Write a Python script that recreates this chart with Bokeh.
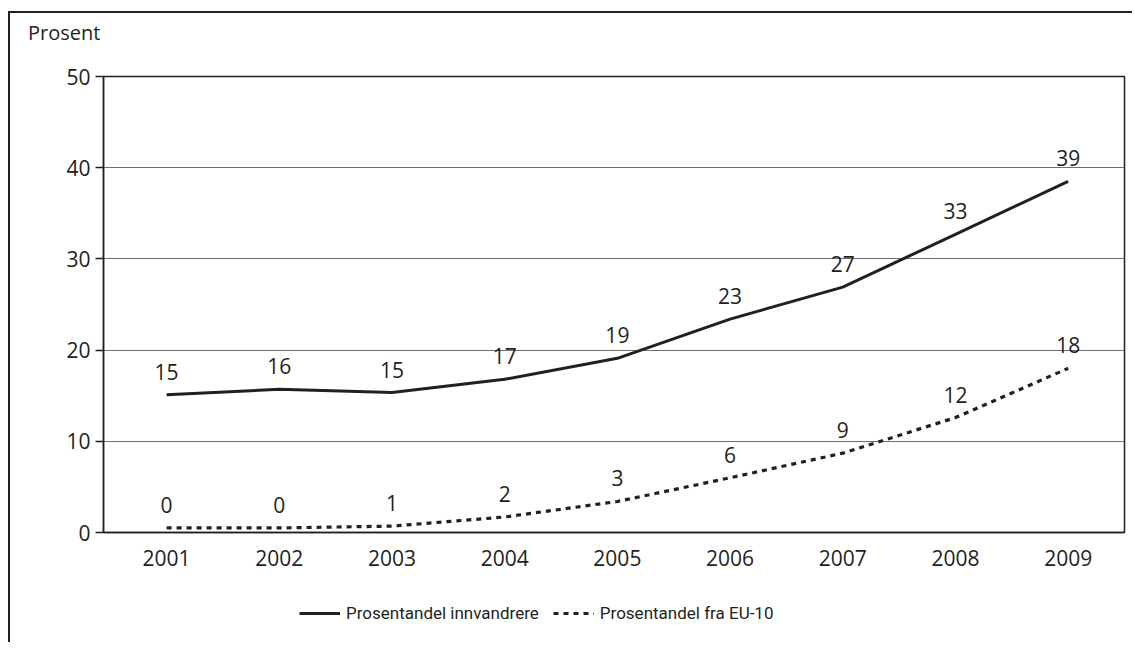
from bokeh.plotting import figure
from bokeh.layouts import column
from bokeh.models import Range1d, FixedTicker, Legend, LegendItem, ColumnDataSource, Div
from bokeh.core.properties import value
from bokeh.embed import file_html
from bokeh.resources import INLINE

years = [2001, 2002, 2003, 2004, 2005, 2006, 2007, 2008, 2009]
innvandrere = [15.1, 15.7, 15.35, 16.8, 19.1, 23.4, 26.9, 32.7, 38.5]
innvandrere_labels = ["15", "16", "15", "17", "19", "23", "27", "33", "39"]
eu10 = [0.5, 0.5, 0.7, 1.7, 3.4, 6.0, 8.7, 12.6, 18.0]
eu10_labels = ["0", "0", "1", "2", "3", "6", "9", "12", "18"]
y_ticks = [0, 10, 20, 30, 40, 50]
series_names = ["Prosentandel innvandrere", "Prosentandel fra EU-10"]
y_title = "Prosent"

INK = "#231f20"
GRID = "#6d6e71"
FONT = "Open Sans"
NARROW = "Roboto"
SOLID = dict(line_color=INK, line_width=3)
DOTTED = dict(line_color=INK, line_width=3.2, line_dash="5 5")

src = ColumnDataSource(dict(x=years, a=innvandrere, al=innvandrere_labels, b=eu10, bl=eu10_labels))

# header with the unit text
head = Div(text=y_title, width=1122, height=51, margin=(0, 0, 0, 0),
           styles={"font-family": "'Open Sans'", "font-size": "20px", "color": INK,
                   "padding-left": "18px", "padding-top": "6px", "line-height": "27px",
                   "box-sizing": "border-box", "background": "white"})

p = figure(width=1122, height=518, output_backend="svg", toolbar_location=None,
           x_range=Range1d(2000.44, 2009.5), y_range=Range1d(0, 50),
           min_border_left=93, min_border_top=12, min_border_right=8, min_border_bottom=50)

p.outline_line_color = INK
p.outline_line_width = 1.5
p.background_fill_color = "white"
p.border_fill_color = "white"

p.xgrid.visible = False
p.ygrid.ticker = FixedTicker(ticks=y_ticks)
p.ygrid.grid_line_color = GRID
p.ygrid.grid_line_width = 1

p.xaxis.ticker = FixedTicker(ticks=years)
p.xaxis.major_tick_line_color = None
p.xaxis.minor_tick_line_color = None
p.xaxis.axis_line_color = INK
p.xaxis.axis_line_width = 1.5
p.xaxis.major_label_text_font = FONT
p.xaxis.major_label_text_font_size = "21px"
p.xaxis.major_label_text_color = INK
p.xaxis.major_label_standoff = 11

p.yaxis.ticker = FixedTicker(ticks=y_ticks)
p.yaxis.minor_tick_line_color = None
p.yaxis.major_tick_out = 8
p.yaxis.major_tick_in = 0
p.yaxis.major_tick_line_color = INK
p.yaxis.major_tick_line_width = 1.5
p.yaxis.axis_line_color = INK
p.yaxis.axis_line_width = 1.5
p.yaxis.major_label_text_font = FONT
p.yaxis.major_label_text_font_size = "21px"
p.yaxis.major_label_text_color = INK
p.yaxis.major_label_standoff = 5

p.line("x", "a", source=src, **SOLID)
p.line("x", "b", source=src, **DOTTED)

for ycol, tcol in (("a", "al"), ("b", "bl")):
    p.text("x", ycol, text=tcol, source=src, text_font=value(FONT), text_font_size="21px",
           text_color=INK, text_align="center", text_baseline="alphabetic", y_offset=-23)

# legend strip below the chart (its lines lie outside its view, only the legend shows)
q = figure(width=1122, height=60, output_backend="svg", toolbar_location=None,
           x_axis_type=None, y_axis_type=None, x_range=Range1d(0, 1), y_range=Range1d(0, 1),
           min_border=0, min_border_left=0, min_border_right=0, min_border_top=0, min_border_bottom=0)
q.outline_line_color = None
q.background_fill_color = "white"
q.border_fill_color = "white"
k1 = q.line("x", "a", source=src, **SOLID)
k2 = q.line("x", "b", source=src, **DOTTED)
legend = Legend(items=[LegendItem(label=series_names[0], renderers=[k1]),
                       LegendItem(label=series_names[1], renderers=[k2])],
                orientation="horizontal", location=(196, 19),
                label_text_font=NARROW, label_text_font_size="17px", label_text_color=INK,
                glyph_width=41, glyph_height=20, label_standoff=6, spacing=14,
                padding=0, margin=0, border_line_color=None, background_fill_alpha=0)
q.add_layout(legend, "center")

layout = column(head, p, q, spacing=0)
layout.styles = {"border-top": f"2px solid {INK}", "border-left": f"2px solid {INK}",
                 "margin-top": "11px", "margin-left": "8px"}

open("out.html", "w").write(file_html(layout, INLINE))
